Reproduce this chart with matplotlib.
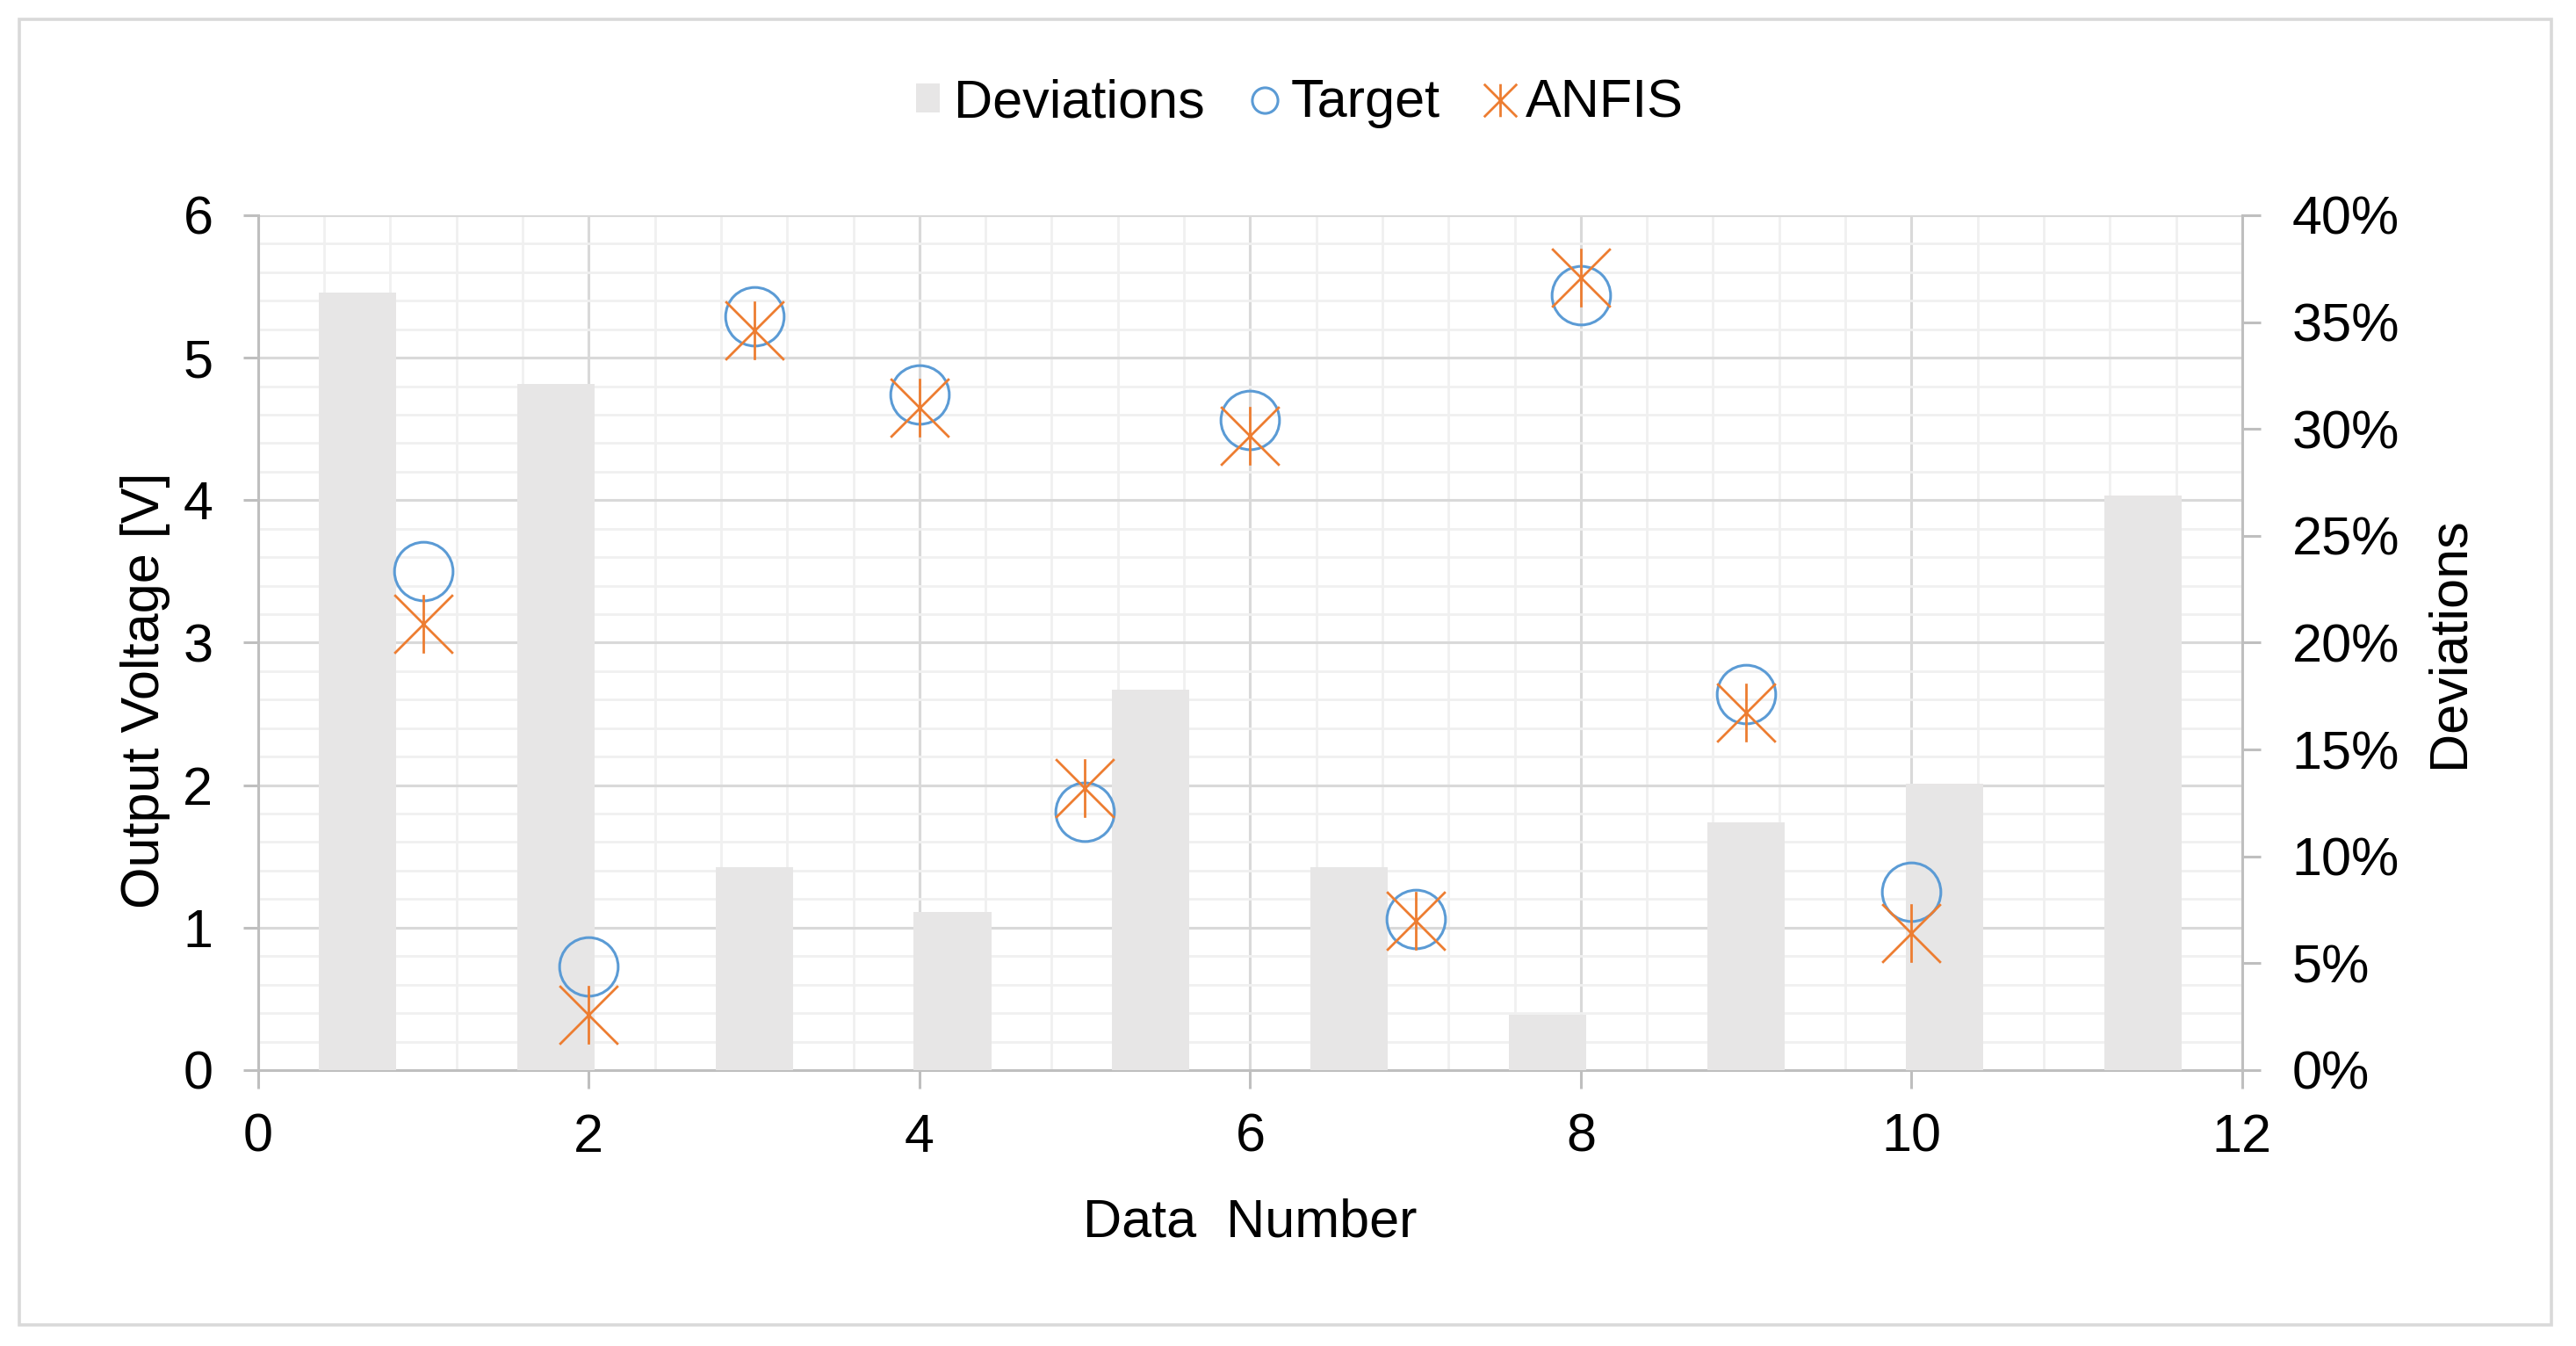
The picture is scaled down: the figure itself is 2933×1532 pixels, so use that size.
import numpy as np
import matplotlib
matplotlib.use('Agg')
import matplotlib.pyplot as plt
from matplotlib.path import Path
from matplotlib.lines import Line2D
from matplotlib.patches import Patch, Rectangle
from matplotlib.ticker import MultipleLocator, PercentFormatter

plt.rcParams['font.family'] = ['Liberation Sans', 'DejaVu Sans']

# data
data_no = [1, 2, 3, 4, 5, 6, 7, 8, 9, 10]
target = [3.50, 0.73, 5.29, 4.74, 1.81, 4.56, 1.06, 5.44, 2.64, 1.25]
anfis = [3.13, 0.39, 5.19, 4.65, 1.98, 4.45, 1.05, 5.56, 2.51, 0.96]
deviations = [0.364, 0.321, 0.095, 0.074, 0.178, 0.095, 0.026, 0.116, 0.134, 0.269]

c_target = '#5B9BD5'
c_anfis = '#ED7D31'
c_bar = '#E7E6E6'
c_axis = '#BFBFBF'

# excel style "star": an X with a vertical stroke
star = Path([(-1, -1), (1, 1), (-1, 1), (1, -1), (0, -1), (0, 1)],
            [Path.MOVETO, Path.LINETO] * 3)

fig = plt.figure(figsize=(14.665, 7.66), dpi=200)
ax = fig.add_axes([0.1002, 0.2050, 0.7702, 0.6351])
ax2 = ax.twinx()

# voltage axis with the grid
ax.set_xlim(0, 12)
ax.set_ylim(0, 6)
ax.xaxis.set_major_locator(MultipleLocator(2))
ax.xaxis.set_minor_locator(MultipleLocator(0.4))
ax.yaxis.set_major_locator(MultipleLocator(1))
ax.yaxis.set_minor_locator(MultipleLocator(0.2))
ax.grid(which='major', color='#D9D9D9', lw=1.1)
ax.grid(which='minor', color='#F0F0F0', lw=1.0)
ax.set_axisbelow(True)
for s in ['top', 'right']:
    ax.spines[s].set_visible(False)
for s in ['left', 'bottom']:
    ax.spines[s].set_color(c_axis)
    ax.spines[s].set_linewidth(1.1)
ax.tick_params(which='major', axis='x', direction='out', length=7.5, width=1.1,
               color=c_axis, labelsize=22, pad=10)
ax.tick_params(which='major', axis='y', direction='out', length=6, width=1.1,
               color=c_axis, labelsize=22, pad=12.5)
ax.tick_params(which='minor', length=0)

# deviations on the secondary axis, one category per bar across the x range
n = len(deviations)
slot = 12 / n
pos = (np.arange(n) + 0.5) * slot
ax2.bar(pos, deviations, width=slot * 0.39, color=c_bar, zorder=1)
ax2.set_ylim(0, 0.40)
ax2.yaxis.set_major_locator(MultipleLocator(0.05))
ax2.yaxis.set_major_formatter(PercentFormatter(1.0, decimals=0))
for s in ['top', 'left', 'bottom']:
    ax2.spines[s].set_visible(False)
ax2.spines['right'].set_color(c_axis)
ax2.spines['right'].set_linewidth(1.1)
ax2.tick_params(axis='y', direction='out', length=7.5, width=1.1,
                color=c_axis, labelsize=22, pad=13)

# markers drawn above the bars but in voltage units
ax2.plot(data_no, target, ls='none', marker='o', ms=24, mfc='none',
         mec=c_target, mew=1.1, transform=ax.transData, zorder=3, clip_on=False)
ax2.plot(data_no, anfis, ls='none', marker=star, ms=24, mfc='none',
         mec=c_anfis, mew=1.0, transform=ax.transData, zorder=4, clip_on=False)
ax2.set_xlim(0, 12)
ax2.set_ylim(0, 0.40)

ax.set_xlabel('Data  Number', fontsize=22)
ax.xaxis.set_label_coords(0.5, -0.150)
ax.set_ylabel('Output Voltage [V]', fontsize=22)
ax.yaxis.set_label_coords(-0.044, 0.444)
ax2.set_ylabel('Deviations', fontsize=22)
ax2.yaxis.set_label_coords(1.092, 0.5)

handles = [
    Patch(facecolor=c_bar, edgecolor='none'),
    Line2D([], [], ls='none', marker='o', ms=10.5, mfc='none', mec=c_target, mew=1.1),
    Line2D([], [], ls='none', marker=star, ms=13.5, mfc='none', mec=c_anfis, mew=1.0),
]
fig.legend(handles, ['Deviations', 'Target', 'ANFIS'], loc='center',
           bbox_to_anchor=(1480 / 2933, 1 - 118 / 1532), ncol=3, frameon=False,
           fontsize=22, handlelength=0.45, handleheight=0.45, handletextpad=0.25,
           columnspacing=0.9, borderpad=0)

# light frame around the whole chart
fig.patches.append(Rectangle((0.0075, 0.0157), 0.983, 0.970, transform=fig.transFigure,
                             fill=False, edgecolor='#D9D9D9', lw=1.3))

fig.savefig('out.png', dpi=200)
